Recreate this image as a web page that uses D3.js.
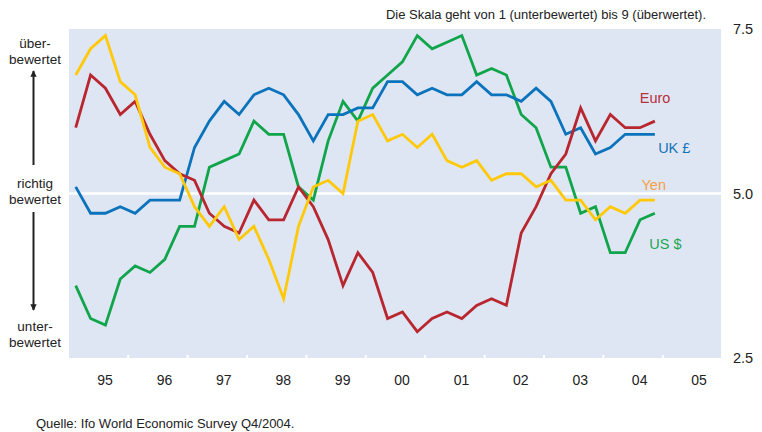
<!DOCTYPE html>
<html>
<head>
<meta charset="utf-8">
<script src="https://cdn.jsdelivr.net/npm/d3@7"></script>
<style>
  body { margin: 0; background: #fff; }
  svg { display: block; font-family: "Liberation Sans", Arial, sans-serif; }
</style>
</head>
<body>
<div id="chart"></div>
<script>
// quarterly survey values, 1995 Q1 .. 2004 Q4
const euro = [6.0, 6.8, 6.6, 6.2, 6.4, 5.9, 5.5, 5.3, 5.2, 4.7, 4.5, 4.4, 4.9, 4.6, 4.6, 5.1, 4.8, 4.3, 3.6, 4.1,
  3.8, 3.1, 3.2, 2.9, 3.1, 3.2, 3.1, 3.3, 3.4, 3.3, 4.4, 4.8, 5.3, 5.6, 6.3, 5.8, 6.2, 6.0, 6.0, 6.1];
const ukPound = [5.1, 4.7, 4.7, 4.8, 4.7, 4.9, 4.9, 4.9, 5.7, 6.1, 6.4, 6.2, 6.5, 6.6, 6.5, 6.2, 5.8, 6.2, 6.2, 6.3,
  6.3, 6.7, 6.7, 6.5, 6.6, 6.5, 6.5, 6.7, 6.5, 6.5, 6.4, 6.6, 6.4, 5.9, 6.0, 5.6, 5.7, 5.9, 5.9, 5.9];
const yen = [6.8, 7.2, 7.4, 6.7, 6.5, 5.7, 5.4, 5.3, 4.8, 4.5, 4.8, 4.3, 4.5, 4.0, 3.4, 4.5, 5.1, 5.2, 5.0, 6.1,
  6.2, 5.8, 5.9, 5.7, 5.9, 5.5, 5.4, 5.5, 5.2, 5.3, 5.3, 5.1, 5.2, 4.9, 4.9, 4.6, 4.8, 4.7, 4.9, 4.9];
const usDollar = [3.6, 3.1, 3.0, 3.7, 3.9, 3.8, 4.0, 4.5, 4.5, 5.4, 5.5, 5.6, 6.1, 5.9, 5.9, 5.1, 4.9, 5.8, 6.4, 6.1,
  6.6, 6.8, 7.0, 7.4, 7.2, 7.3, 7.4, 6.8, 6.9, 6.8, 6.2, 6.0, 5.4, 5.4, 4.7, 4.8, 4.1, 4.1, 4.6, 4.7];

const startYear = 1995;
const years = d3.range(1995, 2006);
const yTicks = [2.5, 5.0, 7.5];

const seriesNames = ["US $", "UK £", "Euro", "Yen"];
const seriesValues = [usDollar, ukPound, euro, yen];
const lineColors = ["#10a54a", "#0b73bb", "#b8262f", "#ffc90a"];
const labelColors = ["#1aa653", "#1273b8", "#b8303a", "#f5a043"];

// chart dimensions
const chartWidth = 762;
const chartHeight = 432;
const plot = { left: 69, right: 721, top: 29, bottom: 358 };

const svg = d3
  .select("#chart")
  .append("svg")
  .attr("width", chartWidth)
  .attr("height", chartHeight);

// scales
const x = d3.scaleLinear().domain([1995, 2006]).range([68.3, 721.7]);
const y = d3.scaleLinear().domain([2.5, 7.5]).range([plot.bottom, plot.top]);

// plot background
svg
  .append("rect")
  .attr("x", plot.left)
  .attr("y", plot.top)
  .attr("width", plot.right - plot.left)
  .attr("height", plot.bottom - plot.top)
  .attr("fill", "#dfe6f3");

// white reference line at 5.0
svg
  .append("line")
  .attr("x1", plot.left)
  .attr("x2", plot.right)
  .attr("y1", y(5))
  .attr("y2", y(5))
  .attr("stroke", "#fff")
  .attr("stroke-width", 2.5);

// year separators (small white ticks at the bottom)
const sep = svg
  .append("g")
  .attr("transform", `translate(0, ${plot.bottom})`)
  .call(d3.axisBottom(x).tickValues(years.slice(1)).tickSize(-3).tickFormat(""));
sep.select(".domain").remove();
sep.selectAll(".tick line").attr("stroke", "#fff").attr("stroke-width", 2);

// x labels, centred in each year
const xAxis = svg
  .append("g")
  .attr("transform", `translate(0, ${plot.bottom})`)
  .call(
    d3.axisBottom(x)
      .tickValues(years.map((d) => d + 0.61))
      .tickSize(0)
      .tickPadding(17)
      .tickFormat((d) => String(Math.floor(d)).slice(2))
  );
xAxis.select(".domain").remove();
xAxis.selectAll("text").attr("font-size", 14).attr("fill", "#222").attr("font-family", null);

// y labels on the right
const yAxis = svg
  .append("g")
  .attr("transform", `translate(${plot.right}, 0)`)
  .call(d3.axisRight(y).tickValues(yTicks).tickSize(0).tickPadding(12).tickFormat(d3.format(".1f")));
yAxis.select(".domain").remove();
yAxis.selectAll("text").attr("font-size", 14.5).attr("fill", "#222").attr("font-family", null);

// lines
const line = d3
  .line()
  .x((d, i) => x(startYear + (i + 0.5) / 4))
  .y((d) => y(d));

svg
  .selectAll(".series")
  .data(seriesValues)
  .enter()
  .append("path")
  .attr("class", "series")
  .attr("d", line)
  .attr("fill", "none")
  .attr("stroke", (d, i) => lineColors[i])
  .attr("stroke-width", 2.8)
  .attr("stroke-linejoin", "miter");

// series labels
const labelAt = [
  { year: 2004.78, value: 4.23 },
  { year: 2004.93, value: 5.69 },
  { year: 2004.62, value: 6.45 },
  { year: 2004.65, value: 5.14 },
];
svg
  .selectAll(".label")
  .data(seriesNames)
  .enter()
  .append("text")
  .attr("class", "label")
  .attr("x", (d, i) => x(labelAt[i].year))
  .attr("y", (d, i) => y(labelAt[i].value))
  .attr("dy", "0.36em")
  .attr("font-size", 14.5)
  .attr("fill", (d, i) => labelColors[i])
  .text((d) => d);

// scale note at the top
svg
  .append("text")
  .attr("x", 706)
  .attr("y", 19)
  .attr("text-anchor", "end")
  .attr("font-size", 13)
  .attr("fill", "#222")
  .text("Die Skala geht von 1 (unterbewertet) bis 9 (überwertet).");

// left side annotations
const leftText = [
  { lines: ["über-", "bewertet"], y: 48 },
  { lines: ["richtig", "bewertet"], y: 188 },
  { lines: ["unter-", "bewertet"], y: 331 },
];
leftText.forEach((t) => {
  const txt = svg
    .append("text")
    .attr("x", 35)
    .attr("y", t.y)
    .attr("text-anchor", "middle")
    .attr("font-size", 13.5)
    .attr("fill", "#222");
  t.lines.forEach((l, i) => {
    txt.append("tspan").attr("x", 35).attr("dy", i === 0 ? 0 : 16).text(l);
  });
});

// arrows
const defs = svg.append("defs");
defs
  .append("marker")
  .attr("id", "head")
  .attr("viewBox", "0 0 10 10")
  .attr("refX", 9)
  .attr("refY", 5)
  .attr("markerWidth", 3.2)
  .attr("markerHeight", 3.2)
  .attr("orient", "auto")
  .append("path")
  .attr("d", "M0,0 L10,5 L0,10 z")
  .attr("fill", "#222");

svg
  .append("line")
  .attr("x1", 33.5)
  .attr("x2", 33.5)
  .attr("y1", 165)
  .attr("y2", 71)
  .attr("stroke", "#222")
  .attr("stroke-width", 2)
  .attr("marker-end", "url(#head)");

svg
  .append("line")
  .attr("x1", 33.5)
  .attr("x2", 33.5)
  .attr("y1", 212)
  .attr("y2", 310)
  .attr("stroke", "#222")
  .attr("stroke-width", 2)
  .attr("marker-end", "url(#head)");

// source
svg
  .append("text")
  .attr("x", 36)
  .attr("y", 428)
  .attr("font-size", 13)
  .attr("fill", "#222")
  .text("Quelle: Ifo World Economic Survey Q4/2004.");
</script>
</body>
</html>
